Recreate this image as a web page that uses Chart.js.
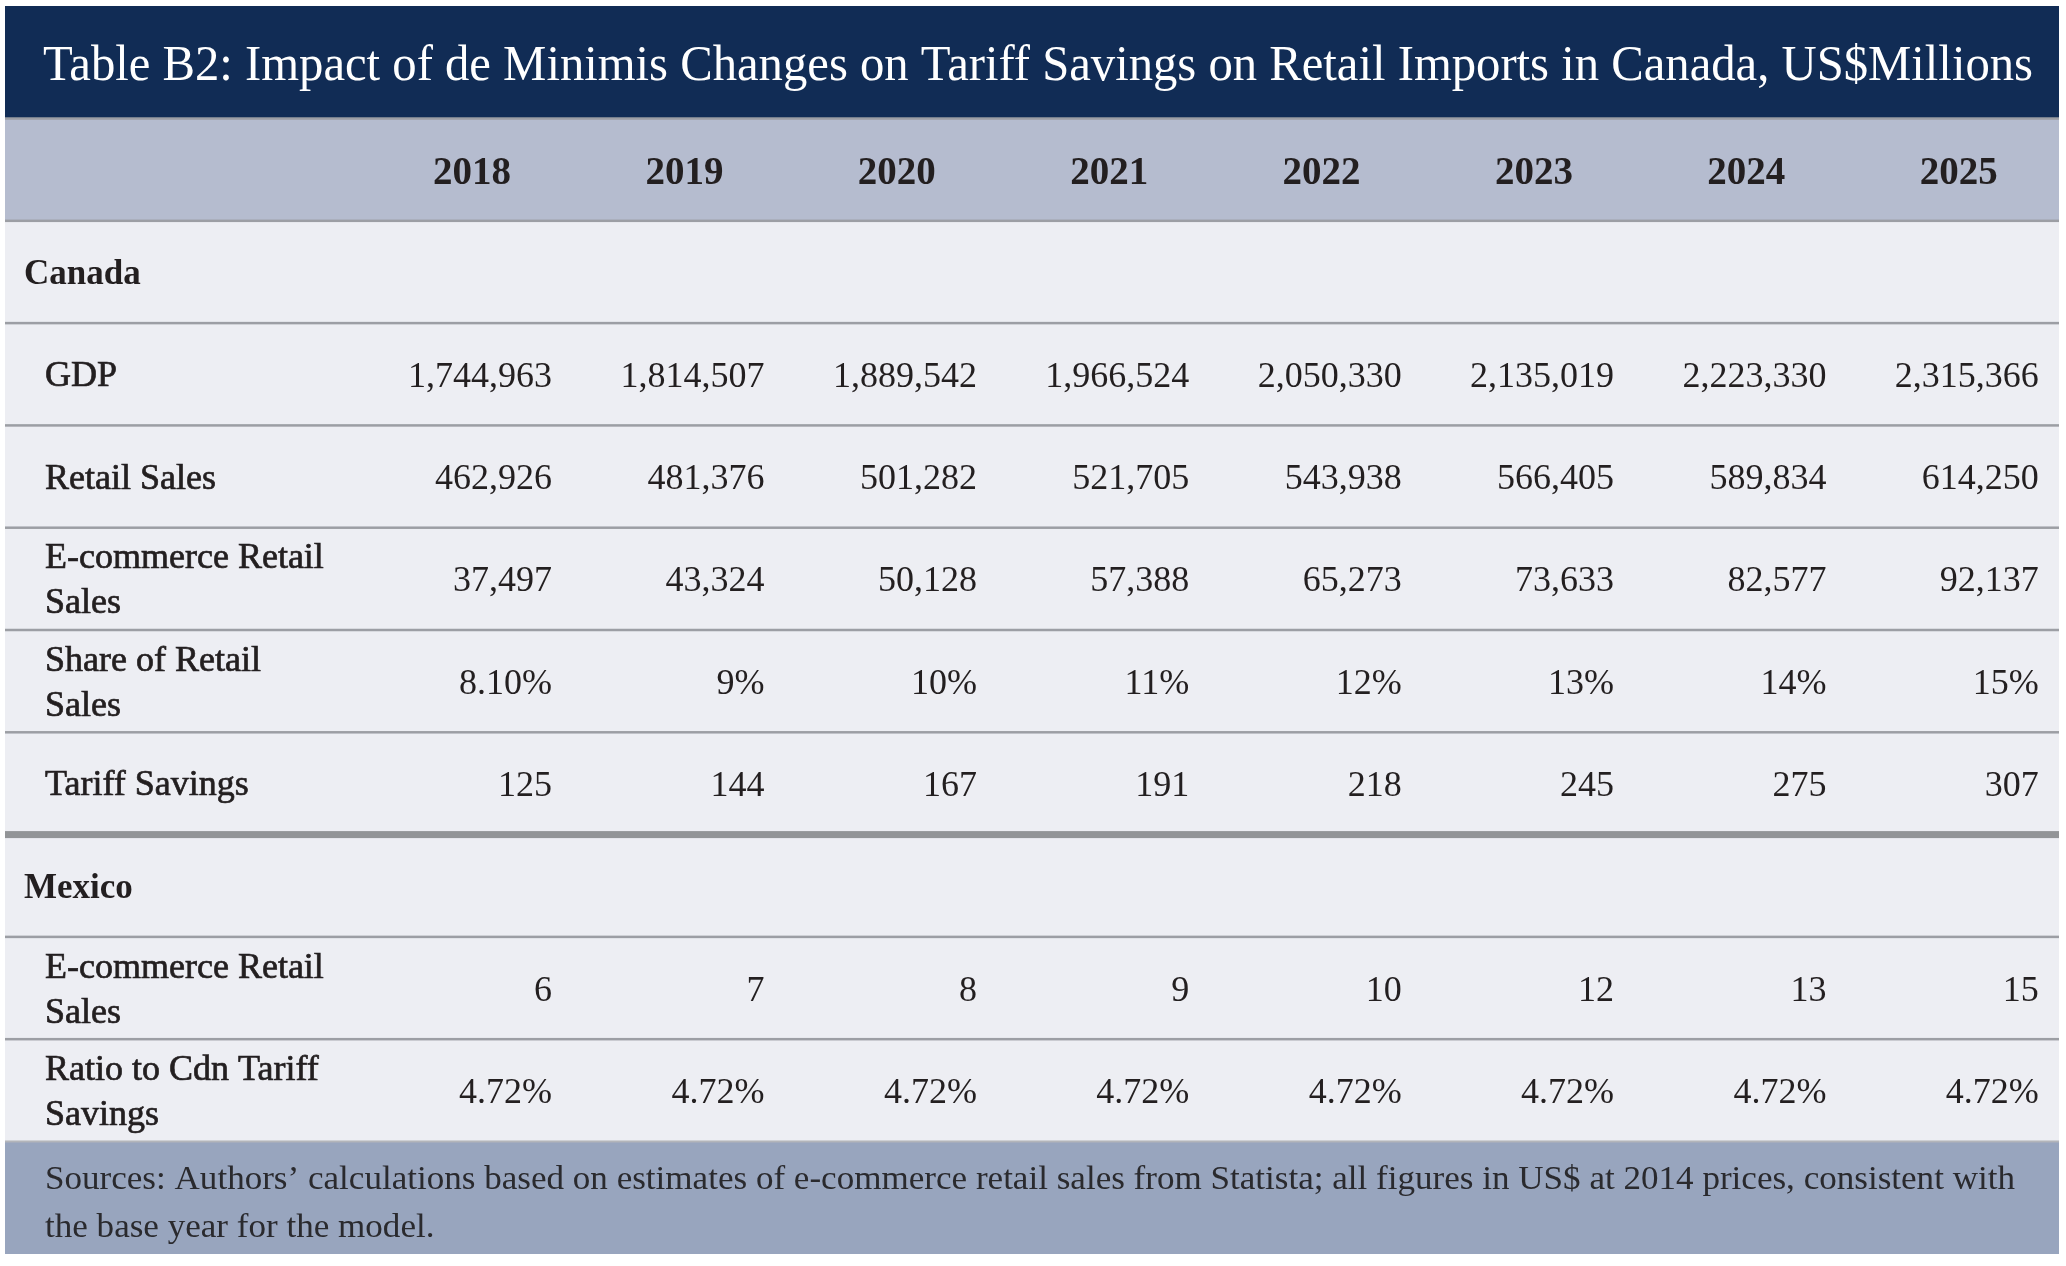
<!DOCTYPE html>
<html>
<head>
<meta charset="utf-8">
<script src="https://cdn.jsdelivr.net/npm/chart.js@4.4.1/dist/chart.umd.min.js"></script>
<style>
  html, body { margin: 0; padding: 0; background: #ffffff; }
  #wrap { width: 2066px; height: 1266px; position: relative; }
</style>
</head>
<body>
<div id="wrap"><canvas id="c"></canvas></div>
<script>
// ---------------- DATA ----------------
const titleText = 'Table B2: Impact of de Minimis Changes on Tariff Savings on Retail Imports in Canada, US$Millions';
const years = ['2018', '2019', '2020', '2021', '2022', '2023', '2024', '2025'];

const canadaGdp = [1744963, 1814507, 1889542, 1966524, 2050330, 2135019, 2223330, 2315366];
const canadaRetailSales = [462926, 481376, 501282, 521705, 543938, 566405, 589834, 614250];
const canadaEcommerceRetailSales = [37497, 43324, 50128, 57388, 65273, 73633, 82577, 92137];
const canadaShareOfRetailSales = [8.10, 9, 10, 11, 12, 13, 14, 15];
const canadaTariffSavings = [125, 144, 167, 191, 218, 245, 275, 307];

const mexicoEcommerceRetailSales = [6, 7, 8, 9, 10, 12, 13, 15];
const mexicoRatioToCdnTariffSavings = [4.72, 4.72, 4.72, 4.72, 4.72, 4.72, 4.72, 4.72];

const sourceLines = [
  'Sources: Authors\u2019 calculations based on estimates of e-commerce retail sales from Statista; all figures in US$ at 2014 prices, consistent with',
  'the base year for the model.'
];

// table structure (row order, labels, formats)
const tableRows = [
  { group: 'Canada' },
  { label: ['GDP'], values: canadaGdp, fmt: 'int' },
  { label: ['Retail Sales'], values: canadaRetailSales, fmt: 'int' },
  { label: ['E-commerce Retail', 'Sales'], values: canadaEcommerceRetailSales, fmt: 'int' },
  { label: ['Share of Retail', 'Sales'], values: canadaShareOfRetailSales, fmt: 'pct' },
  { label: ['Tariff Savings'], values: canadaTariffSavings, fmt: 'int', thickAfter: true },
  { group: 'Mexico' },
  { label: ['E-commerce Retail', 'Sales'], values: mexicoEcommerceRetailSales, fmt: 'int' },
  { label: ['Ratio to Cdn Tariff', 'Savings'], values: mexicoRatioToCdnTariffSavings, fmt: 'pct' }
];

// ---------------- STYLE ----------------
const SERIF = '"Liberation Serif", "DejaVu Serif", serif';
const C_NAVY = '#112c55';
const C_HEAD = '#b5bccf';
const C_BODY = '#edeef3';
const C_SRC = '#98a5be';
const C_LINE = '#9c9ea4';
const C_THICK = '#929497';
const C_TEXT = '#231f20';

// row layout in y-scale units
const TITLE_END = 1.1;
const HEAD_END = 2.1;
const BODY_END = HEAD_END + tableRows.length;
const SRC_END = BODY_END + 1.1;

function fmtValue(v, fmt) {
  if (fmt === 'pct') {
    return (Number.isInteger(v) ? String(v) : v.toFixed(2)) + '%';
  }
  return v.toLocaleString('en-US');
}

// datasets: one per data row, points at (column index, row centre)
const datasets = [];
tableRows.forEach((row, i) => {
  if (!row.values) return;
  datasets.push({
    label: row.label.join(' '),
    rowIndex: i,
    fmt: row.fmt,
    data: row.values.map((v, k) => ({ x: k, y: HEAD_END + i + 0.5, v: v })),
    pointRadius: 0,
    pointHoverRadius: 0,
    showLine: false
  });
});

function hband(ctx, area, ys, y0, y1, color) {
  const p0 = ys.getPixelForValue(y0), p1 = ys.getPixelForValue(y1);
  ctx.fillStyle = color;
  ctx.fillRect(area.left, p0, area.right - area.left, p1 - p0);
}
function hline(ctx, area, ys, y, color, w) {
  const p = ys.getPixelForValue(y);
  ctx.fillStyle = color;
  ctx.fillRect(area.left, p - w / 2, area.right - area.left, w);
}
function semiBoldText(ctx, text, x, y) {
  ctx.fillText(text, x, y);
  ctx.lineWidth = 0.7;
  ctx.strokeText(text, x, y);
}

const tablePlugin = {
  id: 'tablePlugin',
  beforeDraw(chart) {
    const ctx = chart.ctx;
    ctx.save();
    ctx.fillStyle = '#ffffff';
    ctx.fillRect(0, 0, chart.width, chart.height);
    ctx.restore();
  },
  beforeDatasetsDraw(chart) {
    const ctx = chart.ctx, area = chart.chartArea, ys = chart.scales.y;
    ctx.save();
    hband(ctx, area, ys, 0, TITLE_END, C_NAVY);
    hband(ctx, area, ys, TITLE_END, HEAD_END, C_HEAD);
    hband(ctx, area, ys, HEAD_END, BODY_END, C_BODY);
    hband(ctx, area, ys, BODY_END, SRC_END, C_SRC);
    hline(ctx, area, ys, TITLE_END, C_LINE, 2.5);
    hline(ctx, area, ys, HEAD_END, C_LINE, 2.5);
    tableRows.forEach((row, i) => {
      if (i === tableRows.length - 1) return;
      const yb = HEAD_END + i + 1;
      if (row.thickAfter) hline(ctx, area, ys, yb, C_THICK, 7);
      else hline(ctx, area, ys, yb, C_LINE, 2.5);
    });
    hline(ctx, area, ys, BODY_END, '#b3b5ba', 2);
    ctx.restore();
  },
  afterDatasetsDraw(chart) {
    const ctx = chart.ctx, area = chart.chartArea, xs = chart.scales.x, ys = chart.scales.y;
    ctx.save();
    ctx.textBaseline = 'alphabetic';

    // title
    ctx.fillStyle = '#ffffff';
    ctx.font = '50px ' + SERIF;
    const tw = ctx.measureText(titleText).width;
    const tTarget = 1990;
    const tcx = (area.left + area.right) / 2 + 6;
    const tBase = ys.getPixelForValue(TITLE_END / 2) + 18;
    ctx.save();
    ctx.translate(tcx, tBase);
    ctx.scale(tTarget / tw, 1);
    ctx.textAlign = 'center';
    ctx.fillText(titleText, 0, 0);
    ctx.restore();

    // header years
    ctx.fillStyle = C_TEXT;
    ctx.font = 'bold 39px ' + SERIF;
    ctx.textAlign = 'center';
    const hy = ys.getPixelForValue((TITLE_END + HEAD_END) / 2) + 14;
    years.forEach((yr, k) => {
      ctx.fillText(yr, xs.getPixelForValue(k), hy);
    });

    // row labels
    tableRows.forEach((row, i) => {
      const cy = ys.getPixelForValue(HEAD_END + i + 0.5);
      ctx.textAlign = 'left';
      ctx.fillStyle = C_TEXT;
      ctx.strokeStyle = C_TEXT;
      if (row.group) {
        ctx.font = 'bold 35px ' + SERIF;
        ctx.fillText(row.group, area.left + 19, cy + 12);
      } else {
        ctx.font = '36px ' + SERIF;
        if (row.label.length === 1) {
          semiBoldText(ctx, row.label[0], area.left + 40, cy + 12);
        } else {
          semiBoldText(ctx, row.label[0], area.left + 40, cy - 22.5 + 12);
          semiBoldText(ctx, row.label[1], area.left + 40, cy + 22.5 + 12);
        }
      }
    });

    // values, right aligned in each column
    const rightOff = xs.getPixelForValue(0.377) - xs.getPixelForValue(0);
    ctx.font = '36px ' + SERIF;
    ctx.textAlign = 'right';
    ctx.fillStyle = C_TEXT;
    chart.data.datasets.forEach((ds, d) => {
      const meta = chart.getDatasetMeta(d);
      meta.data.forEach((el, k) => {
        ctx.fillText(fmtValue(ds.data[k].v, ds.fmt), el.x + rightOff, el.y + 12.5);
      });
    });

    // sources
    ctx.font = '33px ' + SERIF;
    ctx.fillStyle = '#2a2a2e';
    ctx.textAlign = 'left';
    const sw = ctx.measureText(sourceLines[0]).width;
    const sScale = 1970 / sw;
    const sTop = ys.getPixelForValue(BODY_END);
    sourceLines.forEach((line, j) => {
      ctx.save();
      ctx.translate(area.left + 40, sTop + 48 + j * 48);
      ctx.scale(sScale, 1);
      ctx.fillText(line, 0, 0);
      ctx.restore();
    });
    ctx.restore();
  }
};

const chart = new Chart(document.getElementById('c').getContext('2d'), {
  type: 'scatter',
  data: { datasets: datasets },
  options: {
    responsive: true,
    maintainAspectRatio: false,
    animation: false,
    events: [],
    layout: { padding: { left: 5, right: 7, top: 6, bottom: 12 } },
    scales: {
      x: { type: 'linear', min: -2.199, max: 7.472, display: false },
      y: { type: 'linear', min: 0, max: SRC_END, reverse: true, display: false }
    },
    plugins: {
      legend: { display: false },
      tooltip: { enabled: false }
    }
  },
  plugins: [tablePlugin]
});
</script>
</body>
</html>
